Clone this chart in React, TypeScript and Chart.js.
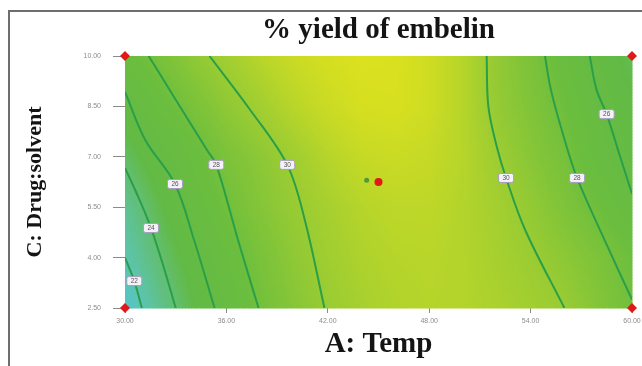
import React, { useEffect, useRef } from "react";
import { Chart, registerables } from "chart.js";

Chart.register(...registerables);

// ---- axis definitions ----
const xTickValues = [30, 36, 42, 48, 54, 60];
const yTickValues = [2.5, 4, 5.5, 7, 8.5, 10];

// ---- response surface values (A: Temp columns, C rows) ----
const gridX = [30, 32, 34, 36, 38, 40, 42, 44, 46, 48, 50, 52, 54, 56, 58, 60];
const gridY = [10, 8.5, 7, 5.5, 4, 2.5];
const zRow100 = [27.3, 28.3, 29.5, 30.4, 31.3, 32.0, 32.5, 32.8, 32.7, 32.2, 31.2, 29.7, 28.5, 27.2, 25.7, 24.6];
const zRow085 = [25.8, 27.2, 28.4, 29.5, 30.4, 31.3, 32.0, 32.5, 32.6, 32.2, 31.2, 29.8, 28.8, 27.7, 26.3, 25.2];
const zRow070 = [24.3, 25.9, 27.2, 28.5, 29.4, 30.3, 31.2, 31.8, 32.0, 31.8, 31.2, 30.2, 29.2, 28.2, 26.8, 25.6];
const zRow055 = [22.9, 24.8, 26.6, 27.9, 29.0, 29.9, 30.6, 31.2, 31.5, 31.5, 31.1, 30.5, 29.7, 28.7, 27.7, 26.6];
const zRow040 = [22.0, 23.9, 25.6, 27.0, 28.4, 29.5, 30.3, 30.9, 31.2, 31.3, 31.1, 30.6, 30.1, 29.4, 28.6, 27.7];
const zRow025 = [20.6, 23.0, 24.9, 26.5, 28.0, 29.1, 30.0, 30.6, 31.0, 31.2, 31.1, 30.8, 30.4, 30.0, 29.0, 27.9];
const gridZ = [zRow100, zRow085, zRow070, zRow055, zRow040, zRow025];

// ---- contour lines ----
const contour22 = [
  { x: 30.0, y: 4.0 }, { x: 30.55, y: 3.3 }, { x: 31.0, y: 2.5 },
];
const contour24 = [
  { x: 30.0, y: 6.67 }, { x: 30.7, y: 5.9 }, { x: 31.54, y: 4.88 }, { x: 32.3, y: 3.7 }, { x: 33.0, y: 2.5 },
];
const contour26L = [
  { x: 30.0, y: 8.93 }, { x: 31.2, y: 7.5 }, { x: 32.96, y: 6.19 }, { x: 34.1, y: 4.5 }, { x: 35.3, y: 2.5 },
];
const contour28L = [
  { x: 31.4, y: 10 }, { x: 33.0, y: 8.7 }, { x: 34.85, y: 7.2 }, { x: 35.4, y: 6.76 }, { x: 36.7, y: 4.5 }, { x: 37.9, y: 2.5 },
];
const contour30L = [
  { x: 35.0, y: 10 }, { x: 37.4, y: 8.4 }, { x: 39.6, y: 6.76 }, { x: 40.65, y: 5.1 }, { x: 41.8, y: 2.5 },
];
const contour30R = [
  { x: 51.4, y: 10 }, { x: 51.5, y: 8.5 }, { x: 52.0, y: 7.3 }, { x: 52.55, y: 6.37 }, { x: 53.7, y: 4.8 }, { x: 56.0, y: 2.5 },
];
const contour28R = [
  { x: 54.85, y: 10 }, { x: 55.2, y: 9.0 }, { x: 55.9, y: 7.7 }, { x: 56.75, y: 6.37 }, { x: 58.4, y: 4.5 }, { x: 60, y: 2.75 },
];
const contour26R = [
  { x: 57.5, y: 10 }, { x: 57.9, y: 9.0 }, { x: 58.5, y: 8.27 }, { x: 59.3, y: 7.0 }, { x: 60, y: 5.9 },
];
const contourSets = [contour22, contour24, contour26L, contour28L, contour30L, contour30R, contour28R, contour26R];

const contourLabelText = ["22", "24", "26", "28", "30", "30", "28", "26"];
const contourLabelX = [30.55, 31.54, 32.96, 35.4, 39.6, 52.55, 56.75, 58.5];
const contourLabelY = [3.3, 4.88, 6.19, 6.76, 6.76, 6.37, 6.37, 8.27];

// ---- design points ----
const cornerPoints = [
  { x: 30, y: 10 }, { x: 60, y: 10 }, { x: 30, y: 2.5 }, { x: 60, y: 2.5 },
];
const centerPoint = [{ x: 45, y: 6.25 }];
const flagPoint = [{ x: 44.3, y: 6.3 }];

const chartTitle = "% yield of embelin";
const xTitle = "A: Temp";
const yTitle = "C: Drug:solvent";

// ---- colour map ----
const colorStops: [number, number[]][] = [
  [20, [80, 196, 212]],
  [22, [92, 196, 175]],
  [24, [98, 190, 112]],
  [25, [98, 186, 70]],
  [27.5, [106, 189, 62]],
  [29, [132, 197, 56]],
  [30.5, [164, 207, 48]],
  [32, [202, 219, 36]],
  [33, [224, 227, 28]],
];

function colorFor(z: number): string {
  if (z <= colorStops[0][0]) {
    const c = colorStops[0][1];
    return `rgb(${c[0]},${c[1]},${c[2]})`;
  }
  for (let i = 1; i < colorStops.length; i++) {
    if (z <= colorStops[i][0]) {
      const [z0, c0] = colorStops[i - 1];
      const [z1, c1] = colorStops[i];
      const t = (z - z0) / (z1 - z0);
      const r = Math.round(c0[0] + (c1[0] - c0[0]) * t);
      const g = Math.round(c0[1] + (c1[1] - c0[1]) * t);
      const b = Math.round(c0[2] + (c1[2] - c0[2]) * t);
      return `rgb(${r},${g},${b})`;
    }
  }
  const c = colorStops[colorStops.length - 1][1];
  return `rgb(${c[0]},${c[1]},${c[2]})`;
}

function zAt(x: number, y: number): number {
  let i = 0;
  while (i < gridX.length - 2 && x > gridX[i + 1]) i++;
  let j = 0;
  while (j < gridY.length - 2 && y < gridY[j + 1]) j++;
  const tx = Math.min(1, Math.max(0, (x - gridX[i]) / (gridX[i + 1] - gridX[i])));
  const ty = Math.min(1, Math.max(0, (y - gridY[j]) / (gridY[j + 1] - gridY[j])));
  const a = gridZ[j][i], b = gridZ[j][i + 1], c = gridZ[j + 1][i], d = gridZ[j + 1][i + 1];
  return a * (1 - tx) * (1 - ty) + b * tx * (1 - ty) + c * (1 - tx) * ty + d * tx * ty;
}

const surfacePlugin = {
  id: "surface",
  beforeDatasetsDraw(chart: any) {
    const { ctx, chartArea, scales } = chart;
    const { left, right, top, bottom } = chartArea;
    const step = 3;
    ctx.save();
    for (let px = left; px < right; px += step) {
      for (let py = top; py < bottom; py += step) {
        const xv = scales.x.getValueForPixel(px + step / 2);
        const yv = scales.y.getValueForPixel(py + step / 2);
        ctx.fillStyle = colorFor(zAt(xv, yv));
        ctx.fillRect(px, py, Math.min(step, right - px) + 0.5, Math.min(step, bottom - py) + 0.5);
      }
    }
    ctx.restore();
  },
};

const labelPlugin = {
  id: "contourLabels",
  afterDatasetsDraw(chart: any) {
    const { ctx, scales } = chart;
    ctx.save();
    ctx.font = "6.5px 'Liberation Sans', Arial, sans-serif";
    ctx.textAlign = "center";
    ctx.textBaseline = "middle";
    for (let i = 0; i < contourLabelText.length; i++) {
      const px = scales.x.getPixelForValue(contourLabelX[i]);
      const py = scales.y.getPixelForValue(contourLabelY[i]);
      const w = 15, h = 9;
      ctx.fillStyle = "#f4f2f8";
      ctx.strokeStyle = "#a89cc0";
      ctx.lineWidth = 1;
      ctx.beginPath();
      (ctx as any).roundRect ? (ctx as any).roundRect(px - w / 2, py - h / 2, w, h, 2) : ctx.rect(px - w / 2, py - h / 2, w, h);
      ctx.fill();
      ctx.stroke();
      ctx.fillStyle = "#555";
      ctx.fillText(contourLabelText[i], px, py + 0.5);
    }
    ctx.restore();
  },
};

const titlePlugin = {
  id: "centerTitle",
  afterDraw(chart: any) {
    const { ctx, chartArea } = chart;
    ctx.save();
    ctx.font = "bold 29px 'Liberation Serif', 'Times New Roman', serif";
    ctx.fillStyle = "#141414";
    ctx.textAlign = "center";
    ctx.textBaseline = "middle";
    ctx.fillText(chartTitle, (chartArea.left + chartArea.right) / 2, 31);
    ctx.restore();
  },
};

export default function App() {
  const canvasRef = useRef<HTMLCanvasElement | null>(null);

  useEffect(() => {
    const prevMargin = document.body.style.margin;
    document.body.style.margin = "0";
    const canvas = canvasRef.current;
    if (!canvas) return;
    const lineColor = "#2a9f4a";
    const datasets: any[] = contourSets.map((pts) => ({
      data: pts,
      showLine: true,
      borderColor: lineColor,
      borderWidth: 2,
      pointRadius: 0,
      tension: 0.35,
      fill: false,
    }));
    datasets.push({
      data: flagPoint,
      pointRadius: 2.5,
      pointBackgroundColor: "#4f9a3c",
      pointBorderWidth: 0,
      showLine: false,
      clip: false,
    });
    datasets.push({
      data: centerPoint,
      pointStyle: "circle",
      pointRadius: 4,
      pointBackgroundColor: "#e01818",
      pointBorderWidth: 0,
      showLine: false,
      clip: false,
    });
    datasets.push({
      data: cornerPoints,
      pointStyle: "rectRot",
      pointRadius: 5,
      pointBackgroundColor: "#e01818",
      pointBorderWidth: 0,
      showLine: false,
      clip: false,
    });

    const chart = new Chart(canvas, {
      type: "scatter",
      data: { datasets },
      options: {
        animation: false,
        responsive: false,
        devicePixelRatio: 1,
        layout: { padding: { top: 56, right: 10, left: 0, bottom: 0 } },
        plugins: {
          legend: { display: false },
          tooltip: { enabled: false },
          title: { display: false },
        },
        scales: {
          x: {
            type: "linear",
            min: 30,
            max: 60,
            afterBuildTicks: (s: any) => {
              s.ticks = xTickValues.map((v) => ({ value: v }));
            },
            afterFit: (s: any) => {
              s.height = 58;
              s.paddingLeft = 0;
              s.paddingRight = 0;
            },
            border: { display: false },
            grid: {
              drawOnChartArea: false,
              drawTicks: true,
              tickLength: 5,
              color: "#8a8a8a",
              lineWidth: 1,
            },
            ticks: {
              padding: 4,
              color: "#8c8c8c",
              font: { size: 7, family: "'Liberation Sans', Arial, sans-serif" },
              maxRotation: 0,
              callback: (v: any) => Number(v).toFixed(2),
            },
            title: {
              display: true,
              text: xTitle,
              color: "#141414",
              font: { size: 29, weight: "bold", family: "'Liberation Serif', 'Times New Roman', serif" },
              padding: { top: 0, bottom: 4 },
            },
          },
          y: {
            type: "linear",
            min: 2.5,
            max: 10,
            afterBuildTicks: (s: any) => {
              s.ticks = yTickValues.map((v) => ({ value: v }));
            },
            afterFit: (s: any) => {
              s.width = 125;
              s.paddingTop = 0;
              s.paddingBottom = 0;
            },
            border: { display: false },
            grid: {
              drawOnChartArea: false,
              drawTicks: true,
              tickLength: 12,
              color: "#8a8a8a",
              lineWidth: 1,
            },
            ticks: {
              padding: 12,
              color: "#8c8c8c",
              font: { size: 7, family: "'Liberation Sans', Arial, sans-serif" },
              callback: (v: any) => Number(v).toFixed(2),
            },
            title: {
              display: true,
              text: yTitle,
              color: "#141414",
              font: { size: 22, weight: "bold", family: "'Liberation Serif', 'Times New Roman', serif" },
              padding: { top: 22, bottom: 0 },
            },
          },
        },
      },
      plugins: [surfacePlugin, labelPlugin, titlePlugin],
    });

    return () => {
      chart.destroy();
      document.body.style.margin = prevMargin;
    };
  }, []);

  return (
    <div style={{ position: "absolute", left: 0, top: 0, width: 642, height: 366, background: "#fff" }}>
      <canvas ref={canvasRef} width={642} height={366} style={{ display: "block" }} />
      <div
        style={{
          position: "absolute",
          left: 8,
          top: 10,
          width: 634,
          height: 356,
          borderTop: "2px solid #6e6e6e",
          borderLeft: "2px solid #6e6e6e",
          boxSizing: "border-box",
          pointerEvents: "none",
        }}
      />
    </div>
  );
}
